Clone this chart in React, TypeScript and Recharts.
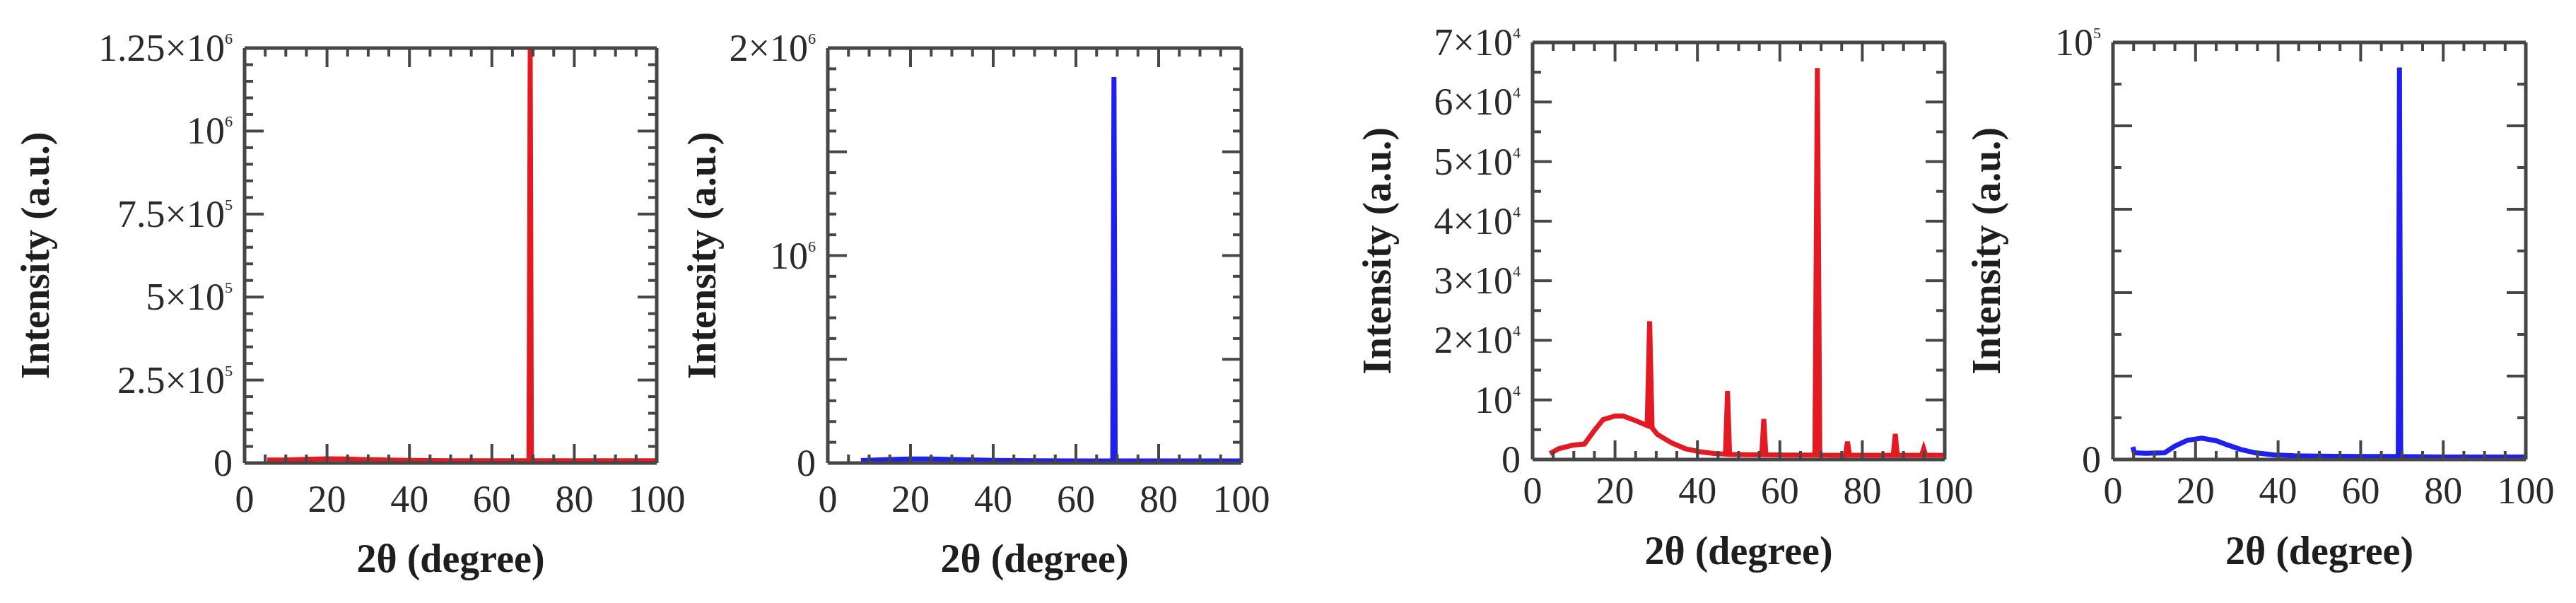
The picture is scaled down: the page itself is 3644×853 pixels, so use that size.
import React from 'react'
import { LineChart, Line, XAxis, YAxis, Label } from 'recharts'

const FONT = '"Liberation Serif", "Times New Roman", serif'
const AXIS = '#464646'
const RED = '#e31a22'
const BLUE = '#1f1fee'

// 2θ axis, shared by all four panels
const xTicks = [0, 5, 10, 15, 20, 25, 30, 35, 40, 45, 50, 55, 60, 65, 70, 75, 80, 85, 90, 95, 100]
const xMajor = [0, 20, 40, 60, 80, 100]

// panel 1 (red, up to 1.25×10⁶)
const p1Angle = [5.5, 10, 15, 20, 25, 30, 40, 50, 60, 69.0, 69.3, 69.6, 80, 90, 100]
const p1Intensity = [9000, 9000, 11000, 13000, 12000, 10000, 8000, 7000, 7000, 7000, 1250000, 7000, 7000, 7000, 7000]
const p1YTicks = [
  0, 50000, 100000, 150000, 200000, 250000, 300000, 350000, 400000, 450000, 500000, 550000, 600000,
  650000, 700000, 750000, 800000, 850000, 900000, 950000, 1000000, 1050000, 1100000, 1150000, 1200000, 1250000,
]
const p1YMajor = [0, 250000, 500000, 750000, 1000000, 1250000]
const p1LabelBase = ['0', '2.5×10', '5×10', '7.5×10', '10', '1.25×10']
const p1LabelExp = ['', '5', '5', '5', '6', '6']

// panel 2 (blue, up to 2×10⁶)
const p2Angle = [8, 14, 20, 25, 30, 40, 50, 60, 68.9, 69.2, 69.5, 80, 90, 100]
const p2Intensity = [12000, 16000, 20000, 20000, 17000, 13000, 11000, 10000, 10000, 1860000, 10000, 10000, 10000, 10000]
const p2YTicks = [
  0, 100000, 200000, 300000, 400000, 500000, 600000, 700000, 800000, 900000, 1000000,
  1100000, 1200000, 1300000, 1400000, 1500000, 1600000, 1700000, 1800000, 1900000, 2000000,
]
const p2YMajor = [0, 500000, 1000000, 1500000, 2000000]
const p2LabelValues = [0, 1000000, 2000000]
const p2LabelBase = ['0', '10', '2×10']
const p2LabelExp = ['', '6', '6']

// panel 3 (red, up to 7×10⁴)
const p3Angle = [
  4.2, 6.3, 9.7, 12.6, 14.9, 17.1, 20, 22, 25.1, 27.8, 28.4, 29.0, 30.3, 33.7, 37.1, 40.6, 44, 46.8,
  47.3, 47.8, 52, 55.6, 56.1, 56.6, 62, 68.5, 69.1, 69.7, 75.9, 76.4, 76.9, 87.5, 88, 88.5, 94.4, 94.9, 95.4, 100,
]
const p3Intensity = [
  1000, 1800, 2400, 2600, 4800, 6700, 7300, 7300, 6500, 5700, 23200, 5300, 4200, 2800, 1800, 1300, 1000, 900,
  11500, 850, 800, 800, 6800, 800, 750, 750, 65700, 750, 700, 3000, 700, 700, 4300, 700, 700, 1800, 700, 700,
]
const p3YTicks = [0, 5000, 10000, 15000, 20000, 25000, 30000, 35000, 40000, 45000, 50000, 55000, 60000, 65000, 70000]
const p3YMajor = [0, 10000, 20000, 30000, 40000, 50000, 60000, 70000]
const p3LabelBase = ['0', '10', '2×10', '3×10', '4×10', '5×10', '6×10', '7×10']
const p3LabelExp = ['', '4', '4', '4', '4', '4', '4', '4']

// panel 4 (blue, up to 10⁵)
const p4Angle = [4.8, 5.2, 8, 12.5, 15, 18, 21.5, 25, 28, 31, 34.5, 39, 44, 50, 60, 69.1, 69.4, 69.7, 80, 90, 100]
const p4Intensity = [3000, 1600, 1500, 1600, 3200, 4600, 5100, 4500, 3400, 2400, 1600, 1100, 900, 800, 700, 700, 94000, 700, 600, 600, 600]
const p4YTicks = [0, 10000, 20000, 30000, 40000, 50000, 60000, 70000, 80000, 90000, 100000]
const p4YMajor = [0, 20000, 40000, 60000, 80000, 100000]
const p4LabelValues = [0, 100000]
const p4LabelBase = ['0', '10']
const p4LabelExp = ['', '5']

const toRows = (xs: number[], ys: number[]) => xs.map((x, i) => ({ x, y: ys[i] }))

type Panel = {
  rows: { x: number; y: number }[]
  color: string
  yMax: number
  yTicks: number[]
  yMajor: number[]
  labelValues: number[]
  labelBase: string[]
  labelExp: string[]
  plotLeft: number
  plotTop: number
  plotRight: number
  plotBottom: number
  chartLeft: number
  yTitleX: number
  xLabelDy: number
  xTitleDy: number
}

const panels: Panel[] = [
  {
    rows: toRows(p1Angle, p1Intensity), color: RED, yMax: 1250000,
    yTicks: p1YTicks, yMajor: p1YMajor, labelValues: p1YMajor, labelBase: p1LabelBase, labelExp: p1LabelExp,
    plotLeft: 346, plotTop: 68, plotRight: 929, plotBottom: 655, chartLeft: 0, yTitleX: 50, xLabelDy: 51, xTitleDy: 135,
  },
  {
    rows: toRows(p2Angle, p2Intensity), color: BLUE, yMax: 2000000,
    yTicks: p2YTicks, yMajor: p2YMajor, labelValues: p2LabelValues, labelBase: p2LabelBase, labelExp: p2LabelExp,
    plotLeft: 1171, plotTop: 68, plotRight: 1756, plotBottom: 655, chartLeft: 940, yTitleX: 993, xLabelDy: 51, xTitleDy: 135,
  },
  {
    rows: toRows(p3Angle, p3Intensity), color: RED, yMax: 70000,
    yTicks: p3YTicks, yMajor: p3YMajor, labelValues: p3YMajor, labelBase: p3LabelBase, labelExp: p3LabelExp,
    plotLeft: 2168, plotTop: 60, plotRight: 2751, plotBottom: 650, chartLeft: 1780, yTitleX: 1948, xLabelDy: 44, xTitleDy: 129,
  },
  {
    rows: toRows(p4Angle, p4Intensity), color: BLUE, yMax: 100000,
    yTicks: p4YTicks, yMajor: p4YMajor, labelValues: p4LabelValues, labelBase: p4LabelBase, labelExp: p4LabelExp,
    plotLeft: 2989, plotTop: 60, plotRight: 3573, plotBottom: 650, chartLeft: 2770, yTitleX: 2810, xLabelDy: 44, xTitleDy: 129,
  },
]

const TICK_FONT = 54
const TITLE_FONT = 56
const MAJOR_LEN = 27
const MINOR_LEN = 12
const X_AXIS_H = 170
const RIGHT_PAD = 40

function makeXTick(side: 'bottom' | 'top', labelDy: number) {
  return (props: any) => {
    const { x, y, payload } = props
    const major = xMajor.includes(payload.value)
    const len = major ? MAJOR_LEN : MINOR_LEN
    const dir = side === 'bottom' ? -1 : 1
    return (
      <g>
        <line x1={x} x2={x} y1={y} y2={y + dir * len} stroke={AXIS} strokeWidth={4} />
        {side === 'bottom' && major && (
          <text x={x} y={y + labelDy + 18} textAnchor="middle" fontFamily={FONT} fontSize={TICK_FONT} fill="#2a2a2a">
            {payload.value}
          </text>
        )}
      </g>
    )
  }
}

function makeYTick(p: Panel, side: 'left' | 'right') {
  return (props: any) => {
    const { x, y, payload } = props
    const major = p.yMajor.includes(payload.value)
    const len = major ? MAJOR_LEN : MINOR_LEN
    const dir = side === 'left' ? 1 : -1
    const li = p.labelValues.indexOf(payload.value)
    return (
      <g>
        <line x1={x} x2={x + dir * len} y1={y} y2={y} stroke={AXIS} strokeWidth={4} />
        {side === 'left' && li >= 0 && (
          <text x={x - 17} y={y + 18} textAnchor="end" fontFamily={FONT} fontSize={TICK_FONT} fill="#2a2a2a">
            <tspan>{p.labelBase[li]}</tspan>
            {p.labelExp[li] && (
              <tspan dy={-24} fontSize={22}>
                {p.labelExp[li]}
              </tspan>
            )}
          </text>
        )}
      </g>
    )
  }
}

function XrdPanel({ p }: { p: Panel }) {
  const yAxisW = p.plotLeft - p.chartLeft
  const width = yAxisW + (p.plotRight - p.plotLeft) + RIGHT_PAD
  const height = 853
  const margin = {
    top: p.plotTop - 1,
    right: RIGHT_PAD - 1,
    left: 0,
    bottom: height - p.plotBottom - X_AXIS_H,
  }
  const titleOffset = p.yTitleX - p.chartLeft

  return (
    <div style={{ position: 'absolute', left: p.chartLeft, top: 0, width, height }}>
      <LineChart width={width} height={height} data={p.rows} margin={margin}>
        <XAxis
          xAxisId="bottom"
          dataKey="x"
          type="number"
          domain={[0, 100]}
          ticks={xTicks}
          interval={0}
          height={X_AXIS_H}
          tickSize={0}
          tickMargin={0}
          tickLine={false}
          axisLine={{ stroke: AXIS, strokeWidth: 5 }}
          tick={makeXTick('bottom', p.xLabelDy)}
        >
          <Label
            content={(lp: any) => {
              const vb = lp.viewBox
              return (
                <text
                  x={vb.x + vb.width / 2}
                  y={vb.y + p.xTitleDy + 19}
                  textAnchor="middle"
                  fontFamily={FONT}
                  fontSize={TITLE_FONT}
                  fontWeight="bold"
                  fill="#1e1e1e"
                >
                  2θ (degree)
                </text>
              )
            }}
          />
        </XAxis>
        <XAxis
          xAxisId="top"
          orientation="top"
          dataKey="x"
          type="number"
          domain={[0, 100]}
          ticks={xTicks}
          interval={0}
          height={1}
          tickSize={0}
          tickMargin={0}
          tickLine={false}
          axisLine={{ stroke: AXIS, strokeWidth: 5 }}
          tick={makeXTick('top', 0)}
        />
        <YAxis
          yAxisId="left"
          type="number"
          domain={[0, p.yMax]}
          allowDataOverflow
          ticks={p.yTicks}
          interval={0}
          width={yAxisW}
          tickSize={0}
          tickMargin={0}
          tickLine={false}
          axisLine={{ stroke: AXIS, strokeWidth: 5 }}
          tick={makeYTick(p, 'left')}
        >
          <Label
            content={(lp: any) => {
              const vb = lp.viewBox
              const cy = vb.y + vb.height / 2
              return (
                <text
                  transform={`translate(${titleOffset},${cy}) rotate(-90)`}
                  textAnchor="middle"
                  dominantBaseline="central"
                  fontFamily={FONT}
                  fontSize={TITLE_FONT}
                  fontWeight="bold"
                  fill="#1e1e1e"
                >
                  Intensity (a.u.)
                </text>
              )
            }}
          />
        </YAxis>
        <YAxis
          yAxisId="right"
          orientation="right"
          type="number"
          domain={[0, p.yMax]}
          allowDataOverflow
          ticks={p.yTicks}
          interval={0}
          width={1}
          tickSize={0}
          tickMargin={0}
          tickLine={false}
          axisLine={{ stroke: AXIS, strokeWidth: 5 }}
          tick={makeYTick(p, 'right')}
        />
        <Line
          xAxisId="bottom"
          yAxisId="left"
          type="linear"
          dataKey="y"
          stroke={p.color}
          strokeWidth={7}
          dot={false}
          activeDot={false}
          isAnimationActive={false}
        />
      </LineChart>
    </div>
  )
}

export default function App() {
  return (
    <div style={{ position: 'absolute', left: 0, top: 0, width: 3644, height: 853, background: '#fff' }}>
      {panels.map((p, i) => (
        <XrdPanel key={i} p={p} />
      ))}
    </div>
  )
}
